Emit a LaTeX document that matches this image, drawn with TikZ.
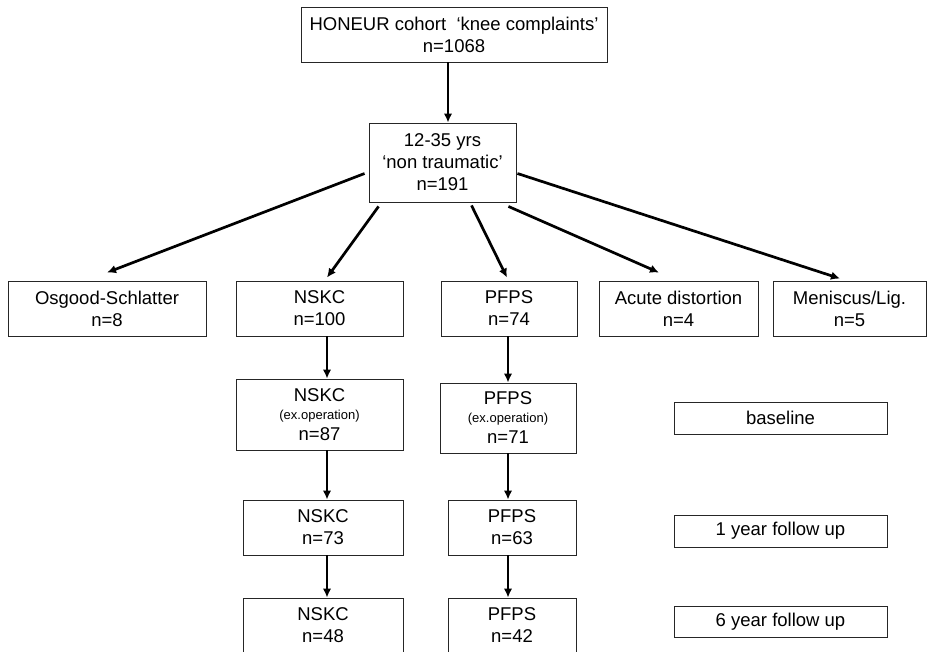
\documentclass[tikz,border=0pt]{standalone}
\usepackage{fontspec}
\setmainfont{Liberation Sans}
\usetikzlibrary{arrows.meta}
\begin{document}
\begin{tikzpicture}[x=1pt,y=-1pt,
  box/.style={draw=black!85,line width=0.9pt,inner sep=0pt,align=center,
    font=\fontsize{18.5}{22}\selectfont},
  arr/.style={line width=2.7pt,-{Latex[length=9pt,width=8.5pt]}}]
\useasboundingbox (0,0) rectangle (928,651);
\clip (0,0) rectangle (928,651);
% nodes
\node[box,minimum width=306pt,minimum height=55pt] (top) at (454,34.5) {HONEUR cohort\ \ ‘knee complaints’\\n=1068};
\node[box,minimum width=147pt,minimum height=79pt] (b2) at (442.5,162.5) {12-35 yrs\\‘non traumatic’\\n=191};
\node[box,minimum width=198pt,minimum height=55pt] (osg) at (107,308.5) {Osgood-Schlatter\\n=8};
\node[box,minimum width=167pt,minimum height=55pt] (nskc1) at (319.5,308.5) {NSKC\\n=100};
\node[box,minimum width=136pt,minimum height=55pt] (pfps1) at (509,308.5) {PFPS\\n=74};
\node[box,minimum width=159pt,minimum height=55pt] (acute) at (678.5,308.5) {Acute distortion\\n=4};
\node[box,minimum width=153pt,minimum height=55pt] (men) at (849.5,308.5) {Meniscus/Lig.\\n=5};
\node[box,minimum width=167pt,minimum height=71pt] (nskc2) at (319.5,414.5) {NSKC\\[-4pt]{\fontsize{13}{15}\selectfont (ex.operation)}\\[-1pt]n=87};
\node[box,minimum width=136pt,minimum height=70pt] (pfps2) at (508,418) {PFPS\\[-4pt]{\fontsize{13}{15}\selectfont (ex.operation)}\\[-1pt]n=71};
\node[box,minimum width=160pt,minimum height=55pt] (nskc3) at (323,527.5) {NSKC\\n=73};
\node[box,minimum width=128pt,minimum height=55pt] (pfps3) at (512,527.5) {PFPS\\n=63};
\node[box,minimum width=160pt,minimum height=55pt] (nskc4) at (323,625.5) {NSKC\\n=48};
\node[box,minimum width=128pt,minimum height=55pt] (pfps4) at (512,625.5) {PFPS\\n=42};
\node[box,minimum width=213pt,minimum height=32pt] (base) at (780.5,418) {baseline};
\node[box,minimum width=213pt,minimum height=32pt] (y1) at (780.5,531) {1 year follow up};
\node[box,minimum width=213pt,minimum height=31pt] (y6) at (780.5,621.5) {6 year follow up};
% column positions
\coordinate (colA) at (327,0);
\coordinate (colB) at (508,0);
\coordinate (colT) at (448,0);
% connectors
\draw[arr] (top.south -| colT) -- (b2.north -| colT);
\draw[arr] ([xshift=-4pt,yshift=-11pt]b2.west) -- ([yshift=8pt]osg.north);
\draw[arr] ([xshift=10pt,yshift=-4pt]b2.south west) -- ([xshift=7.5pt,yshift=3pt]nskc1.north);
\draw[arr] ([xshift=29pt,yshift=-3pt]b2.south) -- ([xshift=-2pt,yshift=3pt]pfps1.north);
\draw[arr] ([xshift=-8pt,yshift=-4pt]b2.south east) -- ([xshift=-19.5pt,yshift=8pt]acute.north);
\draw[arr] ([xshift=1pt,yshift=-11pt]b2.east) -- ([xshift=-9.5pt,yshift=2pt]men.north);
\draw[arr] (nskc1.south -| colA) -- (nskc2.north -| colA);
\draw[arr] (nskc2.south -| colA) -- (nskc3.north -| colA);
\draw[arr] (nskc3.south -| colA) -- (nskc4.north -| colA);
\draw[arr] (pfps1.south -| colB) -- (pfps2.north -| colB);
\draw[arr] (pfps2.south -| colB) -- (pfps3.north -| colB);
\draw[arr] (pfps3.south -| colB) -- (pfps4.north -| colB);
\end{tikzpicture}
\end{document}
